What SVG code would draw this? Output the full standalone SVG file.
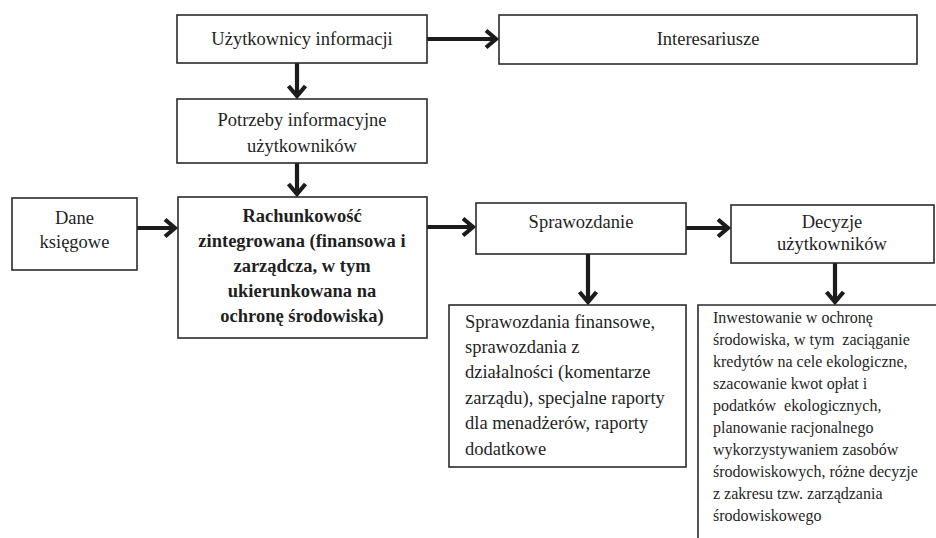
<svg xmlns="http://www.w3.org/2000/svg" width="936" height="538" viewBox="0 0 936 538">
  <style>
    .box { fill: #ffffff; stroke: #2b2b2b; stroke-width: 1.6; }
    .t { font-family: 'Liberation Serif', 'DejaVu Serif', serif; font-size: 18.5px; fill: #1f1f1f; }
    .c { text-anchor: middle; }
    .b { font-weight: bold; }
    .s { font-size: 16px; }
    .arr { fill: none; stroke: #1c1c1c; stroke-width: 4.2; marker-end: url(#chev); }
  </style>
  <defs>
    <marker id="chev" markerUnits="userSpaceOnUse" viewBox="-14 -12 18 24" refX="0" refY="0" markerWidth="18" markerHeight="24" orient="auto" overflow="visible">
      <path d="M-10,-8.5 L0,0 L-10,8.5" fill="none" stroke="#1c1c1c" stroke-width="4.2" stroke-linejoin="miter" stroke-linecap="butt"/>
    </marker>
  </defs>
  <rect width="936" height="538" fill="#ffffff"/>

  <g id="connectors">
    <line class="arr" x1="427" y1="39" x2="496" y2="39"/>
    <line class="arr" x1="297" y1="63" x2="297" y2="96"/>
    <line class="arr" x1="297" y1="163" x2="297" y2="194"/>
    <line class="arr" x1="137" y1="228" x2="175" y2="228"/>
    <line class="arr" x1="427" y1="227" x2="473" y2="227"/>
    <line class="arr" x1="686" y1="228" x2="728" y2="228"/>
    <line class="arr" x1="588" y1="254" x2="588" y2="302"/>
    <line class="arr" x1="835" y1="263" x2="835" y2="302"/>
  </g>

  <g id="uzytkownicy" font-family="Liberation Serif, serif">
    <rect class="box" x="177" y="15" width="250" height="48"/>
    <text class="t c" x="302" y="45">Użytkownicy informacji</text>
  </g>

  <g id="interesariusze">
    <rect class="box" x="499" y="15" width="418" height="49"/>
    <text class="t c" x="708" y="45">Interesariusze</text>
  </g>

  <g id="potrzeby">
    <rect class="box" x="177" y="99" width="250" height="64"/>
    <text class="t c" x="302" y="126">Potrzeby informacyjne</text>
    <text class="t c" x="302" y="152">użytkowników</text>
  </g>

  <g id="dane">
    <rect class="box" x="12" y="198" width="125" height="72"/>
    <text class="t c" x="74.5" y="224">Dane</text>
    <text class="t c" x="74.5" y="248">księgowe</text>
  </g>

  <g id="rachunkowosc">
    <rect class="box" x="178" y="197" width="249" height="141"/>
    <text class="t c b" x="302" y="222">Rachunkowość</text>
    <text class="t c b" x="302" y="247">zintegrowana (finansowa i</text>
    <text class="t c b" x="302" y="272">zarządcza, w tym</text>
    <text class="t c b" x="302" y="297">ukierunkowana na</text>
    <text class="t c b" x="302" y="322">ochronę środowiska)</text>
  </g>

  <g id="sprawozdanie">
    <rect class="box" x="476" y="203" width="210" height="51"/>
    <text class="t c" x="581" y="228">Sprawozdanie</text>
  </g>

  <g id="decyzje">
    <rect class="box" x="731" y="205" width="203" height="58"/>
    <text class="t c" x="832" y="228">Decyzje</text>
    <text class="t c" x="832" y="250">użytkowników</text>
  </g>

  <g id="sprawozdania-finansowe">
    <rect class="box" x="449" y="305" width="237" height="162"/>
    <text class="t" x="465" y="328">Sprawozdania finansowe,</text>
    <text class="t" x="465" y="353">sprawozdania z</text>
    <text class="t" x="465" y="378">działalności (komentarze</text>
    <text class="t" x="465" y="404">zarządu), specjalne raporty</text>
    <text class="t" x="465" y="429">dla menadżerów, raporty</text>
    <text class="t" x="465" y="455">dodatkowe</text>
  </g>

  <g id="decyzje-opis">
    <path d="M698,538 L698,305 L936,305" fill="none" stroke="#2b2b2b" stroke-width="1.6"/>
    <text class="t s" x="713" y="323">Inwestowanie w ochronę</text>
    <text class="t s" x="713" y="345" xml:space="preserve">środowiska, w tym  zaciąganie</text>
    <text class="t s" x="713" y="367">kredytów na cele ekologiczne,</text>
    <text class="t s" x="713" y="389">szacowanie kwot opłat i</text>
    <text class="t s" x="713" y="411" xml:space="preserve">podatków  ekologicznych,</text>
    <text class="t s" x="713" y="433">planowanie racjonalnego</text>
    <text class="t s" x="713" y="455">wykorzystywaniem zasobów</text>
    <text class="t s" x="713" y="477">środowiskowych, różne decyzje</text>
    <text class="t s" x="713" y="499">z zakresu tzw. zarządzania</text>
    <text class="t s" x="713" y="521">środowiskowego</text>
  </g>
</svg>
